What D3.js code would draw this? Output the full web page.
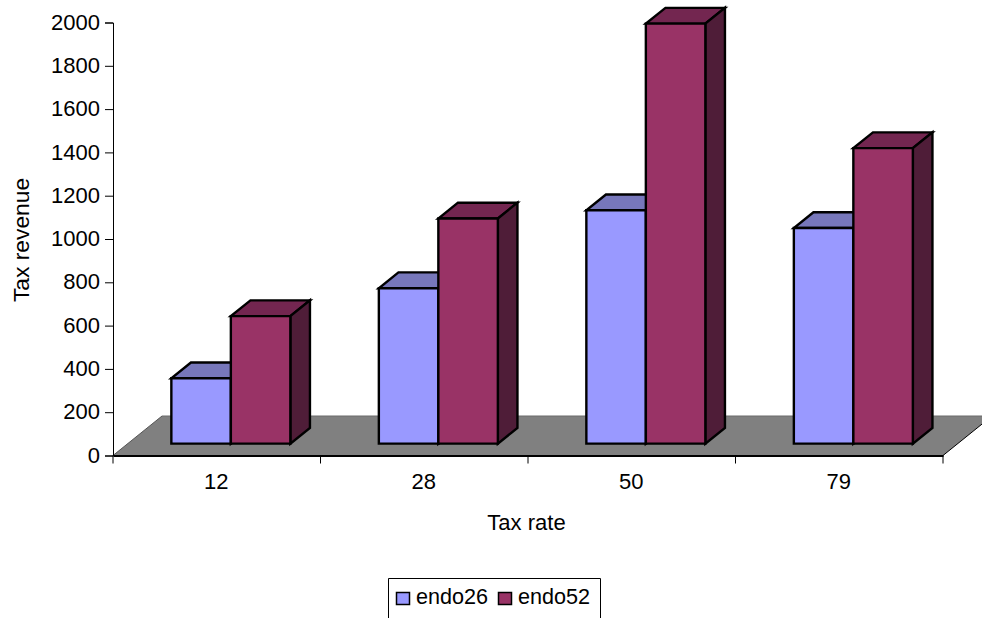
<!DOCTYPE html>
<html>
<head>
<meta charset="utf-8">
<style>
html,body{margin:0;padding:0;background:#fff;overflow:hidden}
svg{display:block}
text{font-family:"Liberation Sans",Arial,sans-serif;fill:#000}
</style>
<script src="https://cdn.jsdelivr.net/npm/d3@7"></script>
</head>
<body>
<svg id="chart" width="982" height="618"></svg>
<script>
const categories = ["12", "28", "50", "79"];
const endo26 = [302, 718, 1078, 996];
const endo52 = [589, 1040, 1940, 1365];
const seriesNames = ["endo26", "endo52"];
const seriesColors = {endo26: {front: "#9999ff", top: "#7777bb", side: "#4c4c80"},
                      endo52: {front: "#993366", top: "#732650", side: "#4f1d38"}};
const yTicks = [0, 200, 400, 600, 800, 1000, 1200, 1400, 1600, 1800, 2000];
const xTitle = "Tax rate";
const yTitle = "Tax revenue";

const fontSize = 22;
const svg = d3.select("#chart");

const x = d3.scaleBand().domain(categories).range([113, 943]);
const y = d3.scaleLinear().domain([0, 2000]).range([455.5, 22.5]);
// Oblique projection of the depth axis: 0 is the front of the floor, 1 the back.
const depthX = d3.scaleLinear().domain([0, 1]).range([0, 49]);
const depthY = d3.scaleLinear().domain([0, 1]).range([0, -39.5]);
const barFront = 0.3, barBack = 0.7;
const barWidth = 59.5;

const pt = (px, v, d) => [px + depthX(d), y(v) + depthY(d)];
const poly = pts => pts.map(p => p.join(",")).join(" ");

// Floor
svg.append("polygon")
  .attr("points", poly([pt(113, 0, 0), pt(943, 0, 0), pt(943, 0, 1), pt(113, 0, 1)]))
  .attr("fill", "#808080");
svg.append("line")
  .attr("x1", pt(113, 0, 1)[0]).attr("y1", pt(113, 0, 1)[1])
  .attr("x2", pt(943, 0, 1)[0]).attr("y2", pt(943, 0, 1)[1])
  .attr("stroke", "#6a6a6a").attr("stroke-width", 1);
svg.append("line")
  .attr("x1", pt(943, 0, 0)[0]).attr("y1", pt(943, 0, 0)[1])
  .attr("x2", pt(943, 0, 1)[0]).attr("y2", pt(943, 0, 1)[1])
  .attr("stroke", "#000").attr("stroke-width", 1);
svg.append("line")
  .attr("x1", pt(113, 0, 0)[0]).attr("y1", pt(113, 0, 0)[1])
  .attr("x2", pt(113, 0, 1)[0]).attr("y2", pt(113, 0, 1)[1])
  .attr("stroke", "#555").attr("stroke-width", 1);

// Boxes, left to right so each one overlaps the side of the previous
const rows = categories.flatMap((c, i) => [
  {cat: c, name: "endo26", value: endo26[i], offset: -barWidth},
  {cat: c, name: "endo52", value: endo52[i], offset: 0}
]);
const box = svg.append("g").selectAll("g").data(rows).join("g")
  .attr("stroke", "#000").attr("stroke-width", 2.4).attr("stroke-linejoin", "miter");
const left = d => x(d.cat) + x.bandwidth() / 2 + d.offset - 0.6;

box.append("polygon")
  .attr("fill", d => seriesColors[d.name].top)
  .attr("points", d => {
    const a = left(d), b = a + barWidth;
    return poly([pt(a, d.value, barFront), pt(b, d.value, barFront), pt(b, d.value, barBack), pt(a, d.value, barBack)]);
  });
box.append("polygon")
  .attr("fill", d => seriesColors[d.name].side)
  .attr("points", d => {
    const b = left(d) + barWidth;
    return poly([pt(b, 0, barFront), pt(b, d.value, barFront), pt(b, d.value, barBack), pt(b, 0, barBack)]);
  });
box.append("polygon")
  .attr("fill", d => seriesColors[d.name].front)
  .attr("points", d => {
    const a = left(d), b = a + barWidth;
    return poly([pt(a, 0, barFront), pt(b, 0, barFront), pt(b, d.value, barFront), pt(a, d.value, barFront)]);
  });

// Axes
const yAxis = svg.append("g").attr("transform", "translate(113,0)")
  .call(d3.axisLeft(y).tickValues(yTicks).tickFormat(d3.format("d")).tickSize(8).tickPadding(5));
yAxis.selectAll(".tick text").attr("dy", "0.3em");
const xAxis = svg.append("g").attr("transform", "translate(0,455.5)")
  .call(d3.axisBottom(x).tickSize(0).tickPadding(18));
xAxis.selectAll(".tick text").attr("dx", -0.6);
x.domain().concat([null]).forEach(c => {
  const tx = c === null ? x.range()[1] : x(c);
  xAxis.append("line").attr("x1", tx).attr("x2", tx).attr("y1", 0).attr("y2", 8)
    .attr("stroke", "#000").attr("stroke-width", 1);
});
xAxis.select(".domain").attr("stroke-width", 2);
yAxis.select(".domain").attr("stroke-width", 1);
[yAxis, xAxis].forEach(a => a.selectAll("text")
  .attr("font-size", fontSize).attr("font-family", '"Liberation Sans",Arial,sans-serif').attr("fill", "#000"));

// Axis titles
svg.append("text").attr("x", 526.5).attr("y", 530).attr("text-anchor", "middle")
  .attr("font-size", fontSize).text(xTitle);
svg.append("text").attr("transform", "translate(28.5,240) rotate(-90)").attr("text-anchor", "middle")
  .attr("font-size", 22.8).text(yTitle);

// Legend, open at the bottom where the page ends
svg.append("path").attr("d", "M388.5,618V578.5H600.5V618")
  .attr("fill", "#fff").attr("stroke", "#000").attr("stroke-width", 1);
const legendX = d3.scalePoint().domain(seriesNames).range([396, 498]);
const item = svg.append("g").selectAll("g").data(seriesNames).join("g")
  .attr("transform", d => `translate(${legendX(d)},0)`);
item.append("rect").attr("x", 0.5).attr("y", 592.5).attr("width", 13).attr("height", 12)
  .attr("fill", d => seriesColors[d].front).attr("stroke", "#000").attr("stroke-width", 1.5);
item.append("text").attr("x", 20).attr("y", 604).attr("font-size", 21.6).text(d => d);
</script>
</body>
</html>
